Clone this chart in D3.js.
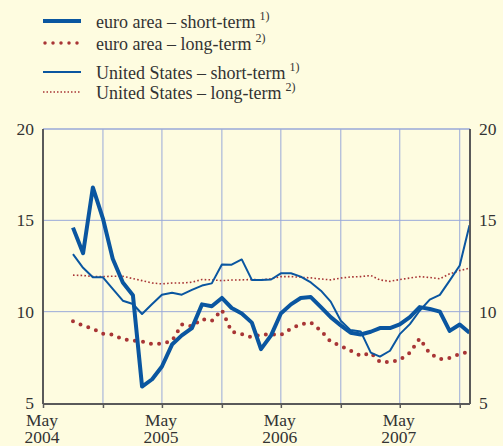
<!DOCTYPE html>
<html>
<head>
<meta charset="utf-8">
<script src="https://cdn.jsdelivr.net/npm/d3@7"></script>
<style>
  body { margin: 0; background: #fefce0; }
  svg { display: block; }
</style>
</head>
<body>
<script>
// monthly observations, Aug 2004 - Dec 2007
const startMonth = "2004-08";
const euroShort = [14.6, 13.2, 16.8, 15.1, 12.9, 11.6, 10.9, 5.9, 6.3, 7.0, 8.2, 8.7, 9.1, 10.4, 10.3, 10.75, 10.2, 9.9, 9.4, 7.95,
  8.7, 9.9, 10.4, 10.75, 10.8, 10.25, 9.7, 9.25, 8.85, 8.75, 8.9, 9.1, 9.1, 9.3, 9.7, 10.25, 10.15, 10.0, 8.95, 9.3, 8.85];
const euroLong = [9.47, 9.23, 9.07, 8.79, 8.74, 8.49, 8.41, 8.37, 8.22, 8.26, 8.4, 9.3, 9.2, 9.6, 9.5, 10.1, 8.9, 8.77, 8.59, 8.75,
  8.76, 8.72, 9.07, 9.31, 9.41, 8.96, 8.35, 8.13, 7.86, 7.58, 7.75, 7.25, 7.25, 7.36, 7.75, 8.53, 7.71, 7.4, 7.47, 7.68, 7.82];
const usShort = [13.15, 12.4, 11.88, 11.88, 11.25, 10.6, 10.42, 9.87, 10.42, 10.93, 11.03, 10.93, 11.19, 11.43, 11.55, 12.58, 12.57, 12.86, 11.74, 11.74,
  11.76, 12.1, 12.1, 11.92, 11.6, 11.15, 10.55, 9.5, 8.99, 8.92, 7.76, 7.54, 7.86, 8.77, 9.32, 10.05, 10.66, 10.92, 11.7, 12.53, 14.73];
const usLong = [12.0, 11.98, 11.92, 11.92, 11.94, 11.94, 11.81, 11.7, 11.57, 11.52, 11.57, 11.57, 11.61, 11.76, 11.74, 11.7, 11.73, 11.74, 11.76, 11.74,
  11.8, 11.92, 11.92, 11.88, 11.85, 11.79, 11.74, 11.84, 11.9, 11.92, 11.98, 11.74, 11.66, 11.76, 11.84, 11.92, 11.87, 11.8, 12.07, 12.25, 12.38];

const yTicks = [5, 10, 15, 20];
const legendLabels = [
  {text: "euro area – short-term", note: "1)"},
  {text: "euro area – long-term", note: "2)"},
  {text: "United States – short-term", note: "1)"},
  {text: "United States – long-term", note: "2)"}
];

const parse = d3.timeParse("%Y-%m");
const months = euroShort.map((d, i) => d3.timeMonth.offset(parse(startMonth), i));

const w = 503, h = 446;
const pLeft = 43, pRight = 470, pTop = 129, pBottom = 403;
const font = "'Liberation Serif', 'DejaVu Serif', 'Times New Roman', serif";

const svg = d3.select("body").append("svg").attr("width", w).attr("height", h)
  .style("font-family", font);

const x = d3.scaleTime()
  .domain([parse("2004-05"), parse("2007-12")])
  .range([pLeft, pRight - 0.5]);
const y = d3.scaleLinear().domain([5, 20]).range([pBottom, pTop]);

const gridColor = "#99a9d9";
const axisColor = "#5a5a5a";
const textColor = "#333";
const blue = "#0a56a0";
const red = "#a83535";

// ticks every six months from May 2004
const tickMonths = d3.timeMonth.range(parse("2004-05"), parse("2007-12"), 6);

// grid
svg.append("g").selectAll("line")
  .data(tickMonths.slice(1))
  .enter().append("line")
  .attr("x1", d => x(d)).attr("x2", d => x(d))
  .attr("y1", pTop).attr("y2", pBottom)
  .attr("stroke", gridColor).attr("stroke-width", 1);

svg.append("g").selectAll("line")
  .data(yTicks.slice(1))
  .enter().append("line")
  .attr("x1", pLeft).attr("x2", pRight)
  .attr("y1", d => y(d)).attr("y2", d => y(d))
  .attr("stroke", gridColor).attr("stroke-width", d => d == 20 ? 1.5 : 1);

// series
const line = d3.line().x((d, i) => x(months[i])).y(d => y(d));

svg.append("path").datum(usLong).attr("d", line)
  .attr("fill", "none").attr("stroke", red).attr("stroke-width", 1.6)
  .attr("stroke-dasharray", "1.6 2.2");
svg.append("path").datum(euroLong).attr("d", line)
  .attr("fill", "none").attr("stroke", red).attr("stroke-width", 4)
  .attr("stroke-linecap", "round").attr("stroke-dasharray", "0 8.2");
svg.append("path").datum(usShort).attr("d", line)
  .attr("fill", "none").attr("stroke", blue).attr("stroke-width", 2)
  .attr("stroke-linejoin", "round");
svg.append("path").datum(euroShort).attr("d", line)
  .attr("fill", "none").attr("stroke", blue).attr("stroke-width", 4)
  .attr("stroke-linejoin", "round");

// axes
svg.append("line").attr("x1", pLeft).attr("x2", pLeft).attr("y1", pTop).attr("y2", pBottom + 1)
  .attr("stroke", axisColor).attr("stroke-width", 2);
svg.append("line").attr("x1", pRight).attr("x2", pRight).attr("y1", pTop).attr("y2", pBottom + 1)
  .attr("stroke", axisColor).attr("stroke-width", 2);

const xAxis = svg.append("g").attr("transform", "translate(0," + (pBottom + 1) + ")")
  .call(d3.axisBottom(x).tickValues(tickMonths).tickSize(4).tickFormat(""));
xAxis.select(".domain").attr("stroke", axisColor).attr("stroke-width", 2)
  .attr("d", "M" + pLeft + ",0H" + pRight);
xAxis.selectAll(".tick line").attr("stroke", axisColor).attr("stroke-width", 1.5);

const labelMonths = tickMonths.filter(d => d.getMonth() == 4);
const xl = svg.append("g").selectAll("g").data(labelMonths).enter().append("g");
xl.append("text").attr("x", d => x(d) - 1).attr("y", 426)
  .attr("text-anchor", "middle").style("font-size", "17.5px").attr("fill", textColor)
  .text("May");
xl.append("text").attr("x", d => x(d) - 1).attr("y", 443)
  .attr("text-anchor", "middle").style("font-size", "17.5px").attr("fill", textColor)
  .text(d => d.getFullYear());

svg.append("g").selectAll("text").data(yTicks).enter().append("text")
  .attr("x", 34).attr("y", d => y(d) + 6)
  .attr("text-anchor", "end").style("font-size", "17.5px").attr("fill", textColor)
  .text(d => d);
svg.append("g").selectAll("text").data(yTicks).enter().append("text")
  .attr("x", 479).attr("y", d => y(d) + 6)
  .attr("text-anchor", "start").style("font-size", "17.5px").attr("fill", textColor)
  .text(d => d);

// legend
const legY = [21, 43, 72, 92];
const leg = svg.append("g");
leg.append("line").attr("x1", 43).attr("x2", 81).attr("y1", legY[0]).attr("y2", legY[0])
  .attr("stroke", blue).attr("stroke-width", 4);
leg.append("line").attr("x1", 45).attr("x2", 81).attr("y1", legY[1]).attr("y2", legY[1])
  .attr("stroke", red).attr("stroke-width", 3.5).attr("stroke-linecap", "round").attr("stroke-dasharray", "0 8");
leg.append("line").attr("x1", 43).attr("x2", 81).attr("y1", legY[2]).attr("y2", legY[2])
  .attr("stroke", blue).attr("stroke-width", 2);
leg.append("line").attr("x1", 43).attr("x2", 81).attr("y1", legY[3]).attr("y2", legY[3])
  .attr("stroke", red).attr("stroke-width", 1.5).attr("stroke-dasharray", "1.5 2");

legendLabels.forEach((d, i) => {
  const t = leg.append("text").attr("x", 96).attr("y", legY[i] + 6.5)
    .style("font-size", "18px").attr("fill", textColor);
  t.append("tspan").text(d.text);
  t.append("tspan").attr("dx", 4).attr("dy", -8).style("font-size", "12px").text(d.note);
});
</script>
</body>
</html>
